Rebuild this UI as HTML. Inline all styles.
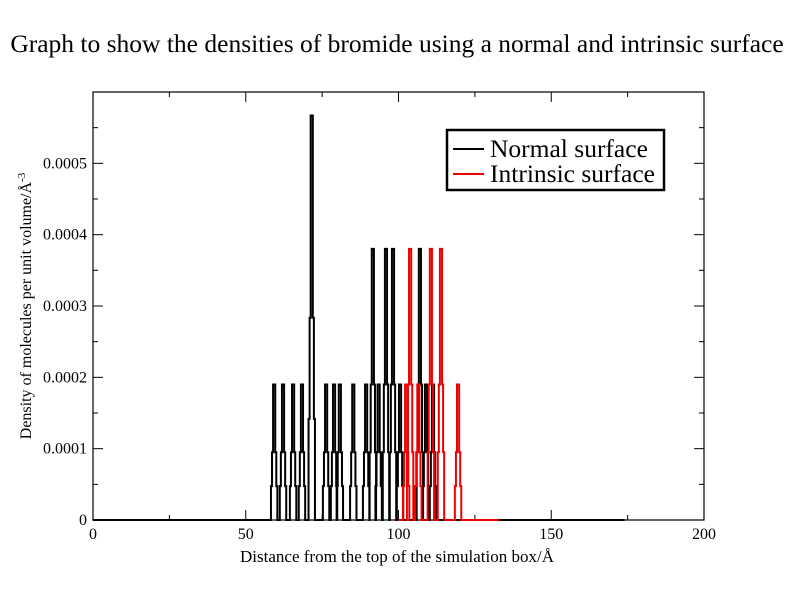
<!DOCTYPE html>
<html><head><meta charset="utf-8"><style>
body{margin:0;background:#fff;}
svg{display:block;font-family:"Liberation Serif",serif;}
</style></head><body>
<svg width="792" height="612" viewBox="0 0 792 612">
<text x="397" y="52" text-anchor="middle" font-size="25.5">Graph to show the densities of bromide using a normal and intrinsic surface</text>
<rect x="93" y="92" width="611" height="428" fill="none" stroke="#000" stroke-width="1.2"/>
<g id="axes"></g>
<g id="series"></g>
<text x="397" y="562" text-anchor="middle" font-size="17">Distance from the top of the simulation box/Å</text>
<text transform="translate(31,306) rotate(-90)" text-anchor="middle" font-size="16">Density of molecules per unit volume/Å<tspan dy="-6" font-size="11">-3</tspan></text>
<g>
<rect x="447" y="130" width="217" height="60" fill="#fff" stroke="#000" stroke-width="2.5"/>
<line x1="453" y1="149" x2="484" y2="149" stroke="#000" stroke-width="2"/>
<text x="490" y="157" font-size="25.5">Normal surface</text>
<line x1="453" y1="174" x2="484" y2="174" stroke="#e00" stroke-width="2"/>
<text x="490" y="182" font-size="25.5">Intrinsic surface</text>
</g>
</svg>
<script>
const xTicks=[0,50,100,150,200];
const yTicks=[0,0.0001,0.0002,0.0003,0.0004,0.0005];
const yTickLabels=["0","0.0001","0.0002","0.0003","0.0004","0.0005"];
const normalPeakX=[59.3,62.2,65.5,68.4,71.6,76.3,78.9,80.8,85.2,89.4,91.6,93.5,95.9,98.2,100.5,107,109,111.3];
const normalPeakY=[0.00019,0.00019,0.00019,0.00019,0.000567,0.00019,0.00019,0.00019,0.00019,0.00019,0.00038,0.00019,0.00038,0.00038,0.00019,0.00038,0.00019,0.00019];
const normalRange=[0,174];
const intrinsicPeakX=[102.5,103.8,106.5,110.6,113.9,119.5];
const intrinsicPeakY=[0.00019,0.00038,0.00019,0.00038,0.00038,0.00019];
const intrinsicRange=[100,133];
const X0=93,X1=704,Y0=520,Y1=92;
const sx=v=>X0+(v/200)*(X1-X0);
const sy=v=>Y0-(v/0.0006)*(Y0-Y1);
const NS="http://www.w3.org/2000/svg";
const axes=document.getElementById('axes');
function mk(t,a,p){const e=document.createElementNS(NS,t);for(const k in a)e.setAttribute(k,a[k]);p.appendChild(e);return e;}
xTicks.forEach((v,i)=>{
 const x=sx(v);
 const t=mk('line',{x1:x,y1:Y0,x2:x,y2:Y0-10,stroke:'#000'},axes);
 
 
 const t2=mk('line',{x1:x,y1:Y1,x2:x,y2:Y1+10,stroke:'#000'},axes);
 
 
 const l=mk('text',{x:x,y:Y0+19,'text-anchor':'middle','font-size':16},axes);
 l.textContent=v;
 
 
 if(i<xTicks.length-1){
  const m=sx(v+25);
  const a=mk('line',{x1:m,y1:Y0,x2:m,y2:Y0-5,stroke:'#000'},axes);
  
  
  const b=mk('line',{x1:m,y1:Y1,x2:m,y2:Y1+5,stroke:'#000'},axes);
  
  
 }
});
yTicks.forEach((v,i)=>{
 const y=sy(v);
 const t=mk('line',{x1:X0,y1:y,x2:X0+10,y2:y,stroke:'#000'},axes);
 
 
 const t2=mk('line',{x1:X1,y1:y,x2:X1-10,y2:y,stroke:'#000'},axes);
 
 
 const l=mk('text',{x:X0-6,y:y+5,'text-anchor':'end','font-size':16},axes);
 l.textContent=yTickLabels[i];
 
 
 const m=sy(v+0.00005);
 const a=mk('line',{x1:X0,y1:m,x2:X0+5,y2:m,stroke:'#000'},axes);
 
 
 const b=mk('line',{x1:X1,y1:m,x2:X1-5,y2:m,stroke:'#000'},axes);
 
 
});
const offs=[-1.4,-1.05,-1.05,-0.7,-0.7,-0.35,-0.35,0.35,0.35,0.7,0.7,1.05,1.05,1.4];
const fr=[0,0,0.25,0.25,0.5,0.5,1,1,0.5,0.5,0.25,0.25,0,0];
function buildPath(px,py,range){
 let d='M'+sx(range[0])+','+sy(0);
 px.forEach((c,i)=>{
  offs.forEach((o,j)=>{d+=' L'+sx(c+o).toFixed(2)+','+sy(py[i]*fr[j]).toFixed(2);});
 });
 d+=' L'+sx(range[1])+','+sy(0);
 return d;
}
const sg=document.getElementById('series');
const p1=mk('path',{d:buildPath(normalPeakX,normalPeakY,normalRange),fill:'none',stroke:'#000','stroke-width':2},sg);


const p2=mk('path',{d:buildPath(intrinsicPeakX,intrinsicPeakY,intrinsicRange),fill:'none',stroke:'#e00','stroke-width':2},sg);


</script>
</body></html>
